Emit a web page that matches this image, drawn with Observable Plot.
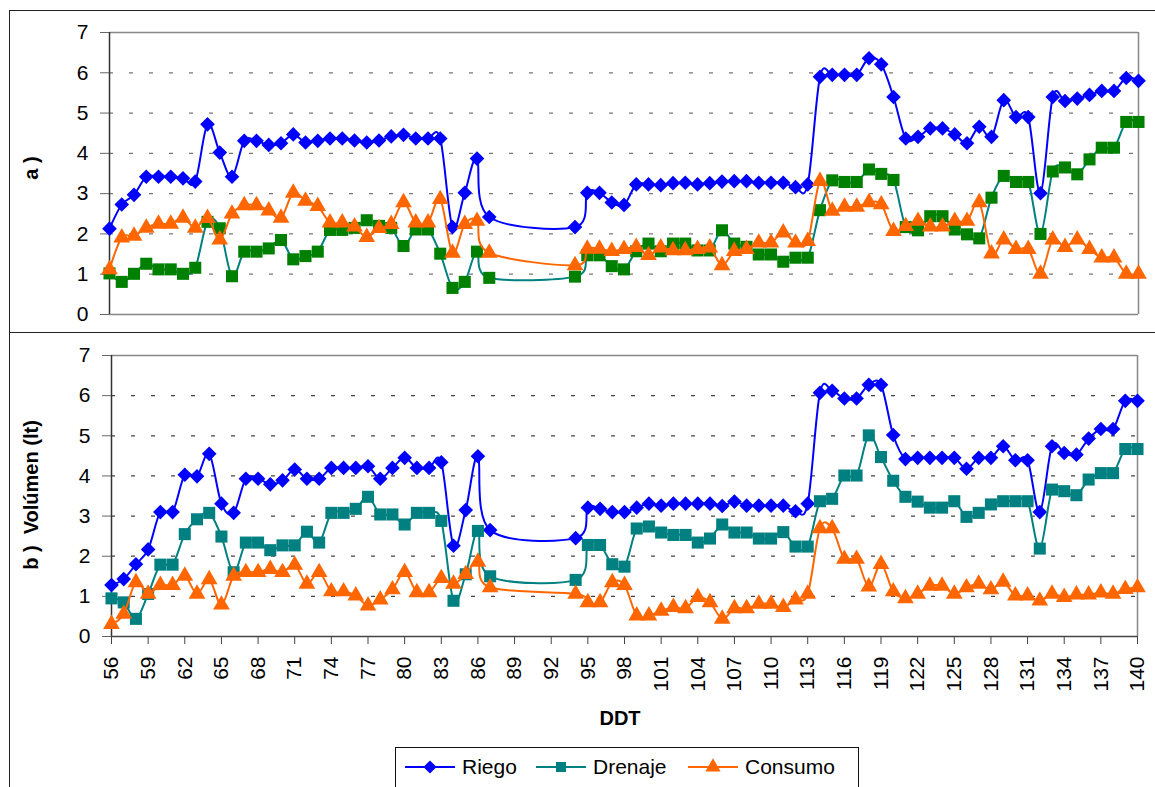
<!DOCTYPE html>
<html>
<head>
<meta charset="utf-8">
<script src="https://cdn.jsdelivr.net/npm/d3@7"></script>
<script src="https://cdn.jsdelivr.net/npm/@observablehq/plot@0.6"></script>
<style>
  body { margin: 0; background: #fff; font-family: "Liberation Sans", Arial, sans-serif; }
  #wrap { position: relative; width: 1155px; height: 787px; overflow: hidden; background: #fff; }
  #frame { position: absolute; left: 9px; top: 10px; width: 1160px; height: 800px; border: 1.5px solid #222; box-sizing: border-box; }
  #sep { position: absolute; left: 9px; top: 332px; width: 1150px; height: 0; border-top: 1.5px solid #222; }
  .panel { position: absolute; left: 0; }
  .ylab { position: absolute; width: 300px; height: 26px; line-height: 26px; text-align: center; font-weight: bold; font-size: 20px; transform: rotate(-90deg); white-space: pre; color: #000; }
  #xlab { position: absolute; left: 560px; top: 707px; width: 120px; text-align: center; font-weight: bold; font-size: 20px; color: #000; }
  #legend { position: absolute; left: 395px; top: 747px; width: 464px; height: 50px; border: 1.5px solid #111; box-sizing: border-box; background: #fff; }
</style>
</head>
<body>
<div id="wrap">
  <div id="frame"></div>
  <div id="sep"></div>
  <div id="pa" class="panel" style="top:0px"></div>
  <div id="pb" class="panel" style="top:333px"></div>
  <div class="ylab" style="left:-119px; top:155px;">a )</div>
  <div class="ylab" style="left:-119px; top:482px;">b )  Volúmen (lt)</div>
  <div id="xlab">DDT</div>
  <div id="legend"></div>
</div>
<script>
// Days after transplant (DDT) with observations
const days = [56,57,58,59,60,61,62,63,64,65,66,67,68,69,70,71,72,73,74,75,76,77,78,79,80,81,82,83,84,85,86,87,
  94,95,96,97,98,99,100,101,102,103,104,105,106,107,108,109,110,111,112,113,114,115,116,117,118,119,120,
  121,122,123,124,125,126,127,128,129,130,131,132,133,134,135,136,137,138,139,140];

const xTicks = [56,59,62,65,68,71,74,77,80,83,86,89,92,95,98,101,104,107,110,113,116,119,122,125,128,131,134,137,140];
const yTicks = [0,1,2,3,4,5,6,7];
const seriesNames = ["Riego","Drenaje","Consumo"];

// Panel a)
const riegoA = [2.13,2.73,2.97,3.42,3.42,3.42,3.38,3.30,4.72,4.02,3.42,4.31,4.31,4.21,4.25,4.47,4.27,4.31,4.37,4.37,4.32,4.27,4.32,4.42,4.46,4.37,4.37,4.37,2.17,3.02,3.87,2.42,
  2.17,3.02,3.02,2.78,2.72,3.23,3.23,3.21,3.26,3.27,3.23,3.26,3.30,3.31,3.31,3.27,3.27,3.27,3.16,3.23,5.90,5.95,5.95,5.95,6.36,6.21,5.40,
  4.37,4.41,4.62,4.62,4.47,4.25,4.66,4.41,5.32,4.90,4.90,3.01,5.40,5.30,5.36,5.45,5.55,5.55,5.87,5.80];
const drenajeA = [1.02,0.81,1.01,1.26,1.12,1.12,1.01,1.16,2.30,2.14,0.95,1.56,1.56,1.64,1.85,1.37,1.45,1.56,2.10,2.10,2.15,2.34,2.20,2.15,1.70,2.11,2.11,1.51,0.66,0.81,1.56,0.91,
  0.94,1.47,1.47,1.20,1.12,1.57,1.76,1.57,1.76,1.76,1.59,1.59,2.09,1.76,1.68,1.49,1.49,1.31,1.41,1.41,2.59,3.33,3.29,3.29,3.60,3.49,3.34,
  2.17,2.09,2.44,2.44,2.11,1.99,1.89,2.90,3.44,3.29,3.29,2.00,3.55,3.65,3.48,3.85,4.14,4.14,4.78,4.78];
const consumoA = [1.12,1.91,1.95,2.15,2.25,2.25,2.40,2.15,2.39,1.86,2.50,2.71,2.71,2.58,2.40,3.02,2.82,2.69,2.28,2.28,2.18,1.92,2.14,2.24,2.78,2.28,2.28,2.86,1.53,2.24,2.32,1.53,
  1.22,1.63,1.63,1.57,1.62,1.67,1.47,1.66,1.59,1.59,1.62,1.66,1.22,1.57,1.62,1.78,1.78,2.03,1.78,1.82,3.31,2.57,2.67,2.67,2.78,2.73,2.07,
  2.19,2.32,2.18,2.18,2.32,2.32,2.78,1.51,1.86,1.62,1.62,1.01,1.86,1.67,1.86,1.62,1.41,1.41,1.01,1.01];

// Panel b)
const riegoB = [1.28,1.43,1.80,2.17,3.10,3.10,4.03,3.99,4.55,3.31,3.08,3.93,3.93,3.79,3.89,4.16,3.93,3.93,4.20,4.20,4.20,4.24,3.93,4.20,4.45,4.20,4.20,4.34,2.26,3.15,4.49,2.65,
  2.45,3.21,3.18,3.10,3.10,3.21,3.31,3.26,3.31,3.31,3.31,3.31,3.25,3.36,3.26,3.26,3.26,3.26,3.12,3.31,6.07,6.12,5.93,5.93,6.27,6.27,5.02,
  4.42,4.45,4.45,4.45,4.45,4.18,4.45,4.45,4.74,4.39,4.39,3.10,4.74,4.57,4.53,4.93,5.17,5.17,5.87,5.87];
const drenajeB = [0.95,0.85,0.44,1.06,1.79,1.79,2.55,2.92,3.08,2.49,1.60,2.34,2.34,2.15,2.27,2.27,2.61,2.34,3.08,3.08,3.18,3.48,3.04,3.04,2.79,3.08,3.08,2.88,0.89,1.55,2.63,1.50,
  1.41,2.28,2.28,1.80,1.74,2.69,2.74,2.59,2.53,2.53,2.34,2.44,2.79,2.59,2.59,2.44,2.44,2.60,2.24,2.24,3.37,3.43,4.01,4.01,5.01,4.47,3.88,
  3.48,3.36,3.21,3.21,3.37,2.98,3.08,3.29,3.37,3.37,3.37,2.19,3.66,3.62,3.52,3.91,4.07,4.07,4.67,4.67];
const consumoB = [0.31,0.56,1.35,1.06,1.28,1.28,1.51,1.06,1.42,0.79,1.51,1.60,1.60,1.68,1.60,1.78,1.31,1.60,1.12,1.12,1.02,0.77,0.92,1.17,1.60,1.10,1.10,1.45,1.31,1.55,1.86,1.22,
  1.06,0.85,0.85,1.35,1.28,0.52,0.52,0.64,0.73,0.70,0.98,0.85,0.44,0.70,0.70,0.81,0.81,0.73,0.92,1.06,2.69,2.69,1.93,1.93,1.24,1.80,1.12,
  0.95,1.06,1.26,1.26,1.06,1.22,1.31,1.17,1.36,1.02,1.02,0.89,1.06,0.98,1.04,1.04,1.09,1.06,1.18,1.22];

const colors = {riego: "#0000FF", drenajeLine: "#008080", drenajeA: "#008000", drenajeB: "#008080", consumo: "#FF6600"};

const rows = vals => days.map((d, i) => ({d, v: vals[i]}));
const smooth = d3.curveCatmullRom.alpha(0);

function seriesMarks(vals, lineColor, dotColor, symbol, r) {
  const data = rows(vals);
  return [
    Plot.line(data, {x: "d", y: "v", stroke: lineColor, strokeWidth: 2, curve: smooth}),
    Plot.dot(data, {x: "d", y: "v", fill: dotColor, stroke: "none", symbol, r})
  ];
}

function panel(opts) {
  const {height, mt, mb, ml, mr, riego, drenaje, consumo, drenajeDot, gridColor, showX} = opts;
  const marks = [
    Plot.gridY(yTicks.filter(t => t > 0 && t < 7), {stroke: gridColor, strokeOpacity: 1, strokeDasharray: "4,16", strokeWidth: 1.3}),
    Plot.ruleY([7], {stroke: "#888", strokeWidth: 1.5}),
    Plot.ruleX([140], {stroke: "#888", strokeWidth: 1.5}),
    Plot.ruleY([0], {stroke: showX ? "#444" : "#888", strokeWidth: 1.5}),
    Plot.ruleX([56], {stroke: "#333", strokeWidth: 1.5}),
    Plot.axisY({ticks: yTicks, label: null, tickSize: 9, tickPadding: 12, stroke: "#666", fill: "#000", tickFormat: d3.format("d")}),
    ...seriesMarks(riego, colors.riego, colors.riego, "diamond2", 6.6),
    ...seriesMarks(drenaje, colors.drenajeLine, drenajeDot, "square", 6.8),
    ...seriesMarks(consumo, colors.consumo, colors.consumo, "triangle", 6.2)
  ];
  if (showX) {
    marks.push(Plot.axisX({ticks: xTicks, label: null, tickSize: 8, tickPadding: 12, tickRotate: -90, stroke: "#444", fill: "#000", tickFormat: d3.format("d")}));
  }
  return Plot.plot({
    width: 1155, height,
    marginTop: mt, marginBottom: mb, marginLeft: ml, marginRight: mr,
    x: {domain: [56, 140], axis: null},
    y: {domain: [0, 7], axis: null},
    style: {background: "transparent", fontFamily: "'Liberation Sans', Arial, sans-serif", fontSize: "21px", color: "#000"},
    marks
  });
}

document.getElementById("pa").append(panel({
  height: 333, mt: 32, mb: 19, ml: 109, mr: 17,
  riego: riegoA, drenaje: drenajeA, consumo: consumoA, drenajeDot: colors.drenajeA, gridColor: "#777", showX: false
}));
document.getElementById("pb").append(panel({
  height: 454, mt: 22, mb: 151, ml: 111, mr: 18,
  riego: riegoB, drenaje: drenajeB, consumo: consumoB, drenajeDot: colors.drenajeB, gridColor: "#444", showX: true
}));

// Legend
const legendItems = [
  {name: seriesNames[0], line: colors.riego, dot: colors.riego, sym: d3.symbolDiamond2, size: 110, x0: 9},
  {name: seriesNames[1], line: colors.drenajeLine, dot: colors.drenajeB, sym: d3.symbolSquare, size: 100, x0: 140},
  {name: seriesNames[2], line: colors.consumo, dot: colors.consumo, sym: d3.symbolTriangle, size: 100, x0: 292}
];
const lg = d3.select("#legend").append("svg").attr("width", 462).attr("height", 48)
  .style("font-family", "'Liberation Sans', Arial, sans-serif").style("font-size", "21px");
legendItems.forEach(it => {
  const g = lg.append("g").attr("transform", `translate(${it.x0},19)`);
  g.append("line").attr("x1", 0).attr("x2", 50).attr("stroke", it.line).attr("stroke-width", 2);
  g.append("path").attr("d", d3.symbol(it.sym, it.size)()).attr("transform", "translate(25,0)").attr("fill", it.dot);
  g.append("text").attr("x", 57).attr("y", 0).attr("dy", "0.35em").attr("fill", "#000").text(it.name);
});
</script>
</body>
</html>
